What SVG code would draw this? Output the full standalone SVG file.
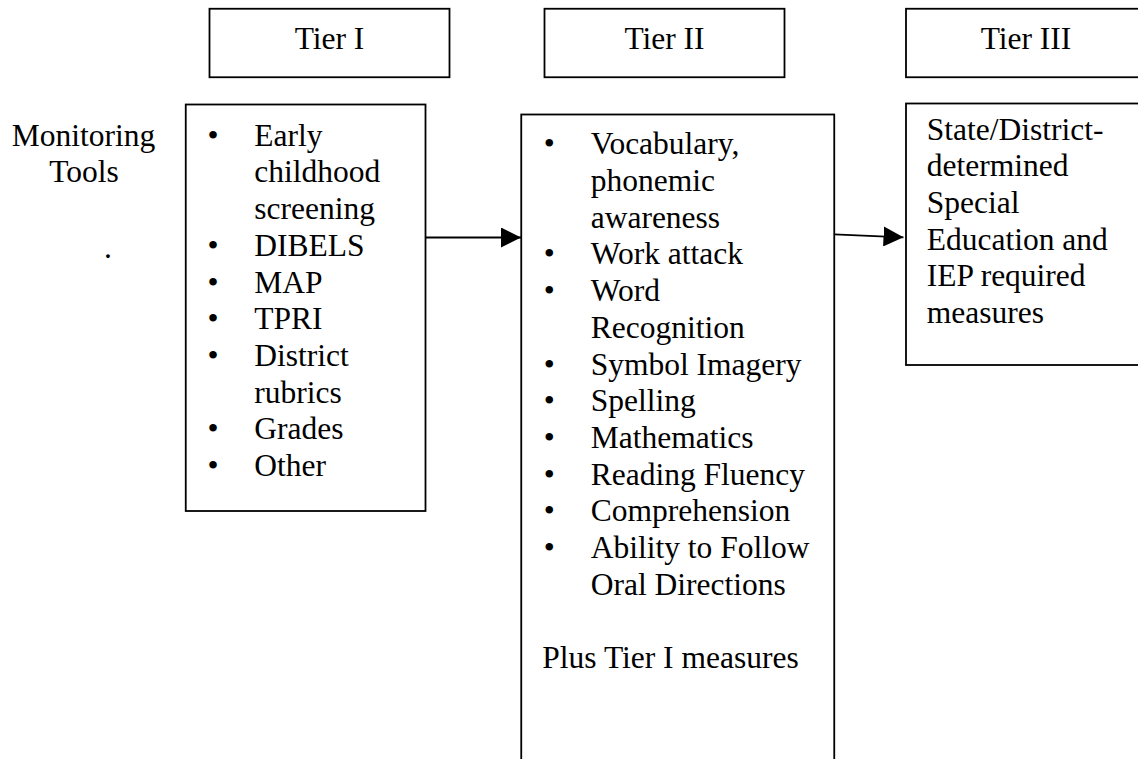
<svg xmlns="http://www.w3.org/2000/svg" width="1138" height="759" viewBox="0 0 1138 759">
<style>
  .box { fill: #ffffff; stroke: #000000; stroke-width: 1.8; }
  .t { font-family: "Liberation Serif", "Times New Roman", serif; font-size: 31.5px; fill: #000000; }
  .c { text-anchor: middle; }
  .edge { stroke: #000000; stroke-width: 1.8; fill: none; }
</style>
<defs>
  <marker id="arr" markerWidth="20" markerHeight="20" refX="20" refY="10" orient="auto" markerUnits="userSpaceOnUse">
    <path d="M0,0 L20,10 L0,20 Z" fill="#000000"/>
  </marker>
</defs>
<rect width="1138" height="759" fill="#ffffff"/>

<g id="tier1-header">
  <rect class="box" x="209.5" y="8.75" width="240" height="68.5"/>
  <text class="t c" x="329.5" y="49.3">Tier I</text>
</g>
<g id="tier2-header">
  <rect class="box" x="544.5" y="8.75" width="240" height="68.5"/>
  <text class="t c" x="664.5" y="49.3">Tier II</text>
</g>
<g id="tier3-header">
  <rect class="box" x="906" y="8.75" width="240" height="68.5"/>
  <text class="t c" x="1026" y="49.3">Tier III</text>
</g>

<g id="monitoring-label">
  <text class="t c" x="83.5" y="145.7">Monitoring</text>
  <text class="t c" x="84" y="181.7">Tools</text>
  <text class="t" x="104" y="258">.</text>
</g>

<g id="tier1-tools">
  <rect class="box" x="185.75" y="104.5" width="239.75" height="406.5"/>
  <g class="t">
    <text x="207.5" y="145.7">•</text><text x="254.3" y="145.7">Early</text>
    <text x="254.3" y="182.4">childhood</text>
    <text x="254.3" y="219.1">screening</text>
    <text x="207.5" y="255.8">•</text><text x="254.3" y="255.8">DIBELS</text>
    <text x="207.5" y="292.5">•</text><text x="254.3" y="292.5">MAP</text>
    <text x="207.5" y="329.2">•</text><text x="254.3" y="329.2">TPRI</text>
    <text x="207.5" y="365.9">•</text><text x="254.3" y="365.9">District</text>
    <text x="254.3" y="402.6">rubrics</text>
    <text x="207.5" y="439.3">•</text><text x="254.3" y="439.3">Grades</text>
    <text x="207.5" y="476">•</text><text x="254.3" y="476">Other</text>
  </g>
</g>

<g id="tier2-tools">
  <rect class="box" x="521.25" y="114.5" width="313" height="660"/>
  <g class="t">
    <text x="543.8" y="154.3">•</text><text x="590.7" y="154.3">Vocabulary,</text>
    <text x="590.7" y="191">phonemic</text>
    <text x="590.7" y="227.7">awareness</text>
    <text x="543.8" y="264.4">•</text><text x="590.7" y="264.4">Work attack</text>
    <text x="543.8" y="301.1">•</text><text x="590.7" y="301.1">Word</text>
    <text x="590.7" y="337.8">Recognition</text>
    <text x="543.8" y="374.5">•</text><text x="590.7" y="374.5">Symbol Imagery</text>
    <text x="543.8" y="411.2">•</text><text x="590.7" y="411.2">Spelling</text>
    <text x="543.8" y="447.9">•</text><text x="590.7" y="447.9">Mathematics</text>
    <text x="543.8" y="484.6">•</text><text x="590.7" y="484.6">Reading Fluency</text>
    <text x="543.8" y="521.3">•</text><text x="590.7" y="521.3">Comprehension</text>
    <text x="543.8" y="558">•</text><text x="590.7" y="558">Ability to Follow</text>
    <text x="590.7" y="594.7">Oral Directions</text>
    <text x="542.3" y="668">Plus Tier I measures</text>
  </g>
</g>

<g id="tier3-tools">
  <rect class="box" x="906" y="103.5" width="240" height="261.5"/>
  <g class="t">
    <text x="926.7" y="139.5">State/District-</text>
    <text x="926.7" y="176.2">determined</text>
    <text x="926.7" y="212.9">Special</text>
    <text x="926.7" y="249.6">Education and</text>
    <text x="926.7" y="286.3">IEP required</text>
    <text x="926.7" y="323">measures</text>
  </g>
</g>

<g id="connectors">
  <line class="edge" x1="425.5" y1="237.5" x2="521" y2="237.5" marker-end="url(#arr)"/>
  <line class="edge" x1="834.3" y1="234.3" x2="903.5" y2="237.3" marker-end="url(#arr)"/>
</g>
</svg>
